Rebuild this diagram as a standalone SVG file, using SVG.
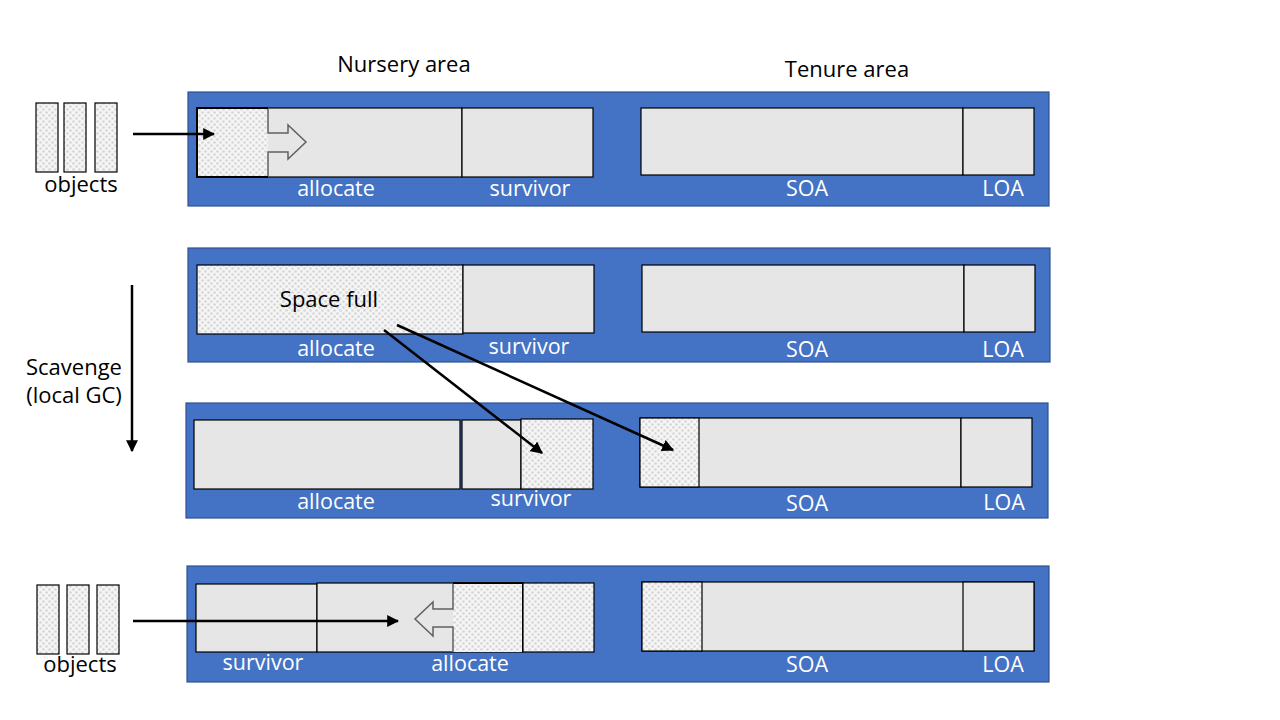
<svg xmlns="http://www.w3.org/2000/svg" width="1280" height="720" viewBox="0 0 1280 720">
<defs>
<pattern id="chk" width="6" height="6" patternUnits="userSpaceOnUse">
<rect width="6" height="6" fill="#f5f5f5"/>
<circle cx="1.5" cy="1.5" r="1.3" fill="#d6d6d6"/>
<circle cx="4.5" cy="4.5" r="1.3" fill="#d6d6d6"/>
</pattern>
<marker id="ah" viewBox="0 0 10 10" refX="9" refY="5" markerWidth="4.8" markerHeight="4.8" orient="auto" markerUnits="strokeWidth">
<path d="M0,0 L10,5 L0,10 Z" fill="#000"/>
</marker>
</defs>
<style>
.panel{fill:#4472C4;stroke:#2F528F;stroke-width:1.2}
.box{fill:#e6e6e6;stroke:#000;stroke-width:1.2}
.chk{fill:url(#chk);stroke:#000;stroke-width:1.2}
.chkn{fill:url(#chk);stroke:none}
.obj{fill:url(#chk);stroke:#000;stroke-width:1.2}
.hol{fill:#e6e6e6;stroke:#606060;stroke-width:1.5}
.lbl{font-family:"Open Sans","Noto Sans",sans-serif;font-size:21.5px;fill:#fff;text-anchor:middle}
.txt{font-family:"Open Sans","Noto Sans",sans-serif;font-size:22px;fill:#000;text-anchor:middle}
.con{stroke:#000;stroke-width:2.5;fill:none;marker-end:url(#ah)}
</style>
<rect width="1280" height="720" fill="#fff"/>

<text class="txt" x="404" y="72">Nursery area</text>
<text class="txt" x="847" y="77">Tenure area</text>
<text class="txt" x="74" y="375" font-size="20.5">Scavenge</text>
<text class="txt" x="74" y="403" font-size="20.5">(local GC)</text>

<g id="objects1">
<rect class="obj" x="36" y="103" width="22" height="69"/>
<rect class="obj" x="64" y="103" width="22" height="69"/>
<rect class="obj" x="95" y="103" width="22" height="69"/>
<text class="txt" x="81" y="192" font-size="20">objects</text>
</g>

<g id="row1">
<rect class="panel" x="188" y="92" width="861" height="114"/>
<rect class="box" x="197" y="108" width="265" height="69"/>
<rect class="chkn" x="197" y="108" width="71" height="69"/>
<path d="M268,108 V133 H288 V125 L306,142 L288,159 V152 H268 V177" class="hol"/>
<path d="M268,108 H197 V177 H268" fill="none" stroke="#000" stroke-width="2"/>
<rect class="box" x="462" y="108" width="131" height="69"/>
<rect class="box" x="641" y="108" width="322" height="67"/>
<rect class="box" x="963" y="108" width="71" height="67"/>
<text class="lbl" x="336" y="196">allocate</text>
<text class="lbl" x="530" y="196">survivor</text>
<text class="lbl" x="807" y="196">SOA</text>
<text class="lbl" x="1003" y="196">LOA</text>
</g>

<g id="row2">
<rect class="panel" x="188" y="248" width="862" height="114"/>
<rect class="chk" x="197" y="265" width="266" height="69"/>
<rect class="box" x="463" y="265" width="131" height="68"/>
<rect class="box" x="642" y="265" width="322" height="67"/>
<rect class="box" x="964" y="265" width="71" height="67"/>
<text class="txt" x="329" y="307" font-size="19">Space full</text>
<text class="lbl" x="336" y="356">allocate</text>
<text class="lbl" x="529" y="354">survivor</text>
<text class="lbl" x="807" y="357">SOA</text>
<text class="lbl" x="1003" y="357">LOA</text>
</g>

<g id="row3">
<rect class="panel" x="186" y="403" width="862" height="115"/>
<rect class="box" x="194" y="420" width="266" height="69"/>
<rect class="box" x="462" y="420" width="59" height="69"/>
<rect class="chk" x="521" y="419" width="72" height="70" stroke-width="1.6"/>
<rect class="box" x="640" y="418" width="321" height="69"/>
<rect class="chk" x="640" y="418" width="59" height="69"/>
<rect class="box" x="961" y="418" width="71" height="69"/>
<text class="lbl" x="336" y="509">allocate</text>
<text class="lbl" x="531" y="506">survivor</text>
<text class="lbl" x="807" y="511">SOA</text>
<text class="lbl" x="1004" y="510">LOA</text>
</g>

<g id="objects2">
<rect class="obj" x="37" y="585" width="22" height="69"/>
<rect class="obj" x="67" y="585" width="22" height="69"/>
<rect class="obj" x="97" y="585" width="22" height="69"/>
<text class="txt" x="80" y="672" font-size="20">objects</text>
</g>

<g id="row4">
<rect class="panel" x="187" y="566" width="862" height="116"/>
<rect class="box" x="196" y="584" width="121" height="68"/>
<rect class="box" x="317" y="583" width="206" height="69"/>
<rect class="chkn" x="453" y="583" width="70" height="69"/>
<path d="M453,583 V609 H433 V602 L415,619 L433,636 V627 H453 V652" class="hol"/>
<path d="M453,583 H523 V652" fill="none" stroke="#000" stroke-width="2"/>
<rect class="chk" x="523" y="583" width="71" height="69"/>
<rect class="box" x="642" y="582" width="392" height="69"/>
<rect class="chk" x="642" y="582" width="60" height="69"/>
<rect class="box" x="963" y="582" width="71" height="69"/>
<text class="lbl" x="263" y="670">survivor</text>
<text class="lbl" x="470" y="671">allocate</text>
<text class="lbl" x="807" y="672">SOA</text>
<text class="lbl" x="1003" y="672">LOA</text>
</g>

<g id="connectors">
<line class="con" x1="133" y1="134" x2="214" y2="134"/>
<line class="con" x1="132" y1="285" x2="132" y2="451"/>
<line class="con" x1="384" y1="330" x2="542" y2="453"/>
<line class="con" x1="397" y1="325" x2="673" y2="450"/>
<line class="con" x1="133" y1="621" x2="398" y2="621"/>
</g>
</svg>
